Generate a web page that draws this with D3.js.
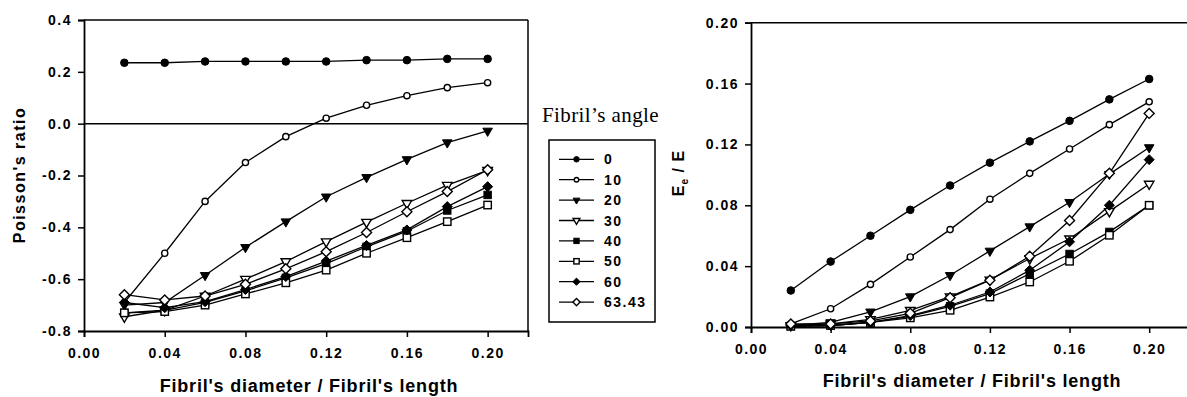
<!DOCTYPE html>
<html><head><meta charset="utf-8">
<script src="https://cdn.jsdelivr.net/npm/d3@7"></script>
<style>
body{margin:0;background:#fff;}
svg{display:block;}
.tk{font-family:"Liberation Sans",Arial,sans-serif;font-weight:bold;font-size:14px;letter-spacing:1.5px;fill:#000;}
.ttl{font-family:"Liberation Sans",Arial,sans-serif;font-weight:bold;fill:#000;}
</style></head>
<body>
<svg id="c" width="1187" height="397"></svg>
<script>
const xVals = [0.02,0.04,0.06,0.08,0.10,0.12,0.14,0.16,0.18,0.20];
const angles = ["0","10","20","30","40","50","60","63.43"];
const markerTypes = ["circleF","circleO","triF","triO","sqF","sqO","diaF","diaO"];

// Poisson's ratio
const p0  = [0.235,0.235,0.24,0.24,0.24,0.24,0.245,0.245,0.25,0.25];
const p10 = [-0.69,-0.50,-0.30,-0.15,-0.05,0.021,0.071,0.108,0.139,0.158];
const p20 = [-0.70,-0.69,-0.585,-0.477,-0.378,-0.282,-0.207,-0.138,-0.073,-0.028];
const p30 = [-0.745,-0.72,-0.665,-0.60,-0.532,-0.455,-0.38,-0.307,-0.237,-0.18];
const p40 = [-0.73,-0.72,-0.69,-0.645,-0.595,-0.54,-0.475,-0.415,-0.335,-0.275];
const p50 = [-0.73,-0.725,-0.70,-0.657,-0.614,-0.565,-0.50,-0.44,-0.378,-0.314];
const p60 = [-0.69,-0.71,-0.687,-0.64,-0.59,-0.53,-0.47,-0.41,-0.32,-0.243];
const p63 = [-0.66,-0.68,-0.665,-0.62,-0.56,-0.494,-0.42,-0.34,-0.262,-0.178];

// Ee / E
const e0  = [0.024,0.043,0.060,0.077,0.093,0.108,0.122,0.1355,0.1496,0.163];
const e10 = [0.002,0.012,0.028,0.046,0.064,0.084,0.101,0.117,0.133,0.148];
const e20 = [0.001,0.003,0.010,0.020,0.034,0.050,0.066,0.082,0.1005,0.118];
const e30 = [0.001,0.002,0.005,0.011,0.020,0.031,0.045,0.058,0.076,0.094];
const e40 = [0.0005,0.001,0.003,0.007,0.0136,0.022,0.035,0.048,0.0625,0.080];
const e50 = [0.0005,0.001,0.003,0.006,0.011,0.0197,0.0296,0.0432,0.0603,0.080];
const e60 = [0.001,0.001,0.003,0.0075,0.0143,0.023,0.0373,0.056,0.080,0.110];
const e63 = [0.002,0.002,0.004,0.009,0.0193,0.0307,0.0465,0.070,0.101,0.1404];

const xTicks = [0.00,0.04,0.08,0.12,0.16,0.20];
const yTicksL = [-0.8,-0.6,-0.4,-0.2,0.0,0.2,0.4];
const yTicksR = [0.00,0.04,0.08,0.12,0.16,0.20];

const poisson = [p0,p10,p20,p30,p40,p50,p60,p63];
const modulus = [e0,e10,e20,e30,e40,e50,e60,e63];

const svg = d3.select("#c");

function drawMarker(g, type, x, y, k){
  const filled = type.endsWith("F");
  const fill = filled ? "#000" : "#fff";
  let el;
  if(type.startsWith("circle")){
    el = g.append("circle").attr("cx",x).attr("cy",y).attr("r",(filled?3.8:3.1)*k);
  } else if(type.startsWith("tri")){
    const s = 9.5*k, h = s*0.866;
    el = g.append("path").attr("d",`M${x-s/2},${y-h/3}L${x+s/2},${y-h/3}L${x},${y+2*h/3}Z`);
  } else if(type.startsWith("sq")){
    const s = 7.4*k;
    el = g.append("rect").attr("x",x-s/2).attr("y",y-s/2).attr("width",s).attr("height",s);
  } else {
    const r = 5.0*k;
    el = g.append("path").attr("d",`M${x},${y-r}L${x+r},${y}L${x},${y+r}L${x-r},${y}Z`);
  }
  el.attr("fill",fill).attr("stroke","#000").attr("stroke-width",filled?1:1.4);
}

function panel(opt){
  const x = d3.scaleLinear().domain([0,0.22]).range(opt.xr);
  const y = d3.scaleLinear().domain(opt.yd).range(opt.yr);
  const g = svg.append("g");
  // frame
  g.append("line").attr("x1",opt.xr[0]).attr("x2",opt.xr[1]).attr("y1",opt.yr[1]).attr("y2",opt.yr[1])
    .attr("stroke","#000").attr("stroke-width",1.5);
  if(opt.rightBorder){
    g.append("line").attr("x1",opt.xr[1]).attr("x2",opt.xr[1]).attr("y1",opt.yr[0]).attr("y2",opt.yr[1])
      .attr("stroke","#000").attr("stroke-width",1.5);
  }
  if(opt.zeroLine){
    g.append("line").attr("x1",opt.xr[0]).attr("x2",opt.xr[1]).attr("y1",y(0)).attr("y2",y(0))
      .attr("stroke","#000").attr("stroke-width",1.5);
  }
  // axes
  const xa = g.append("g").attr("transform",`translate(0,${opt.yr[0]})`)
    .call(d3.axisBottom(x).tickValues(xTicks).tickFormat(d3.format(".2f")).tickSize(6).tickPadding(11));
  const ya = g.append("g").attr("transform",`translate(${opt.xr[0]},0)`)
    .call(d3.axisLeft(y).tickValues(opt.yt).tickFormat(d3.format(opt.yf)).tickSize(6).tickPadding(6));
  [xa,ya].forEach(a=>{
    a.select(".domain").attr("stroke","#000").attr("stroke-width",1.8);
    a.selectAll(".tick line").attr("stroke","#000").attr("stroke-width",1.5);
    a.selectAll(".tick text").attr("class","tk").attr("font-family",null).attr("font-size",null);
    a.attr("font-family",null).attr("font-size",null);
  });
  ya.selectAll(".tick text").text(d=>d3.format(opt.yf)(d).replace("−","-"));
  // series
  const line = d3.line().x((d,i)=>x(xVals[i])).y(d=>y(d));
  opt.data.forEach((s,si)=>{
    g.append("path").datum(s).attr("d",line).attr("fill","none").attr("stroke","#000").attr("stroke-width",1.3);
  });
  opt.data.forEach((s,si)=>{
    s.forEach((v,i)=>drawMarker(g,markerTypes[si],x(xVals[i]),y(v),1));
  });
  // titles
  g.append("text").attr("class","ttl").attr("x",opt.xt[0]).attr("y",opt.xt[1]).attr("text-anchor","middle")
    .style("font-size","18px").style("letter-spacing","0.8px").text("Fibril's diameter / Fibril's length");
  return g;
}

const gl = panel({xr:[84,528], yr:[331,20], yd:[-0.8,0.4], yt:yTicksL, yf:".1f",
  data:poisson, rightBorder:true, zeroLine:true, xt:[309,392]});
gl.append("text").attr("class","ttl").attr("transform","translate(25,175) rotate(-90)")
  .attr("text-anchor","middle").style("font-size","16px").style("letter-spacing","1.5px").text("Poisson's ratio");

const gr = panel({xr:[751,1189], yr:[327,22.7], yd:[0,0.20], yt:yTicksR, yf:".2f",
  data:modulus, rightBorder:false, zeroLine:false, xt:[972,387]});
const yl = gr.append("text").attr("class","ttl").attr("transform","translate(684,173) rotate(-90)")
  .attr("text-anchor","middle").style("font-size","16px").style("letter-spacing","1px");
yl.append("tspan").text("E");
yl.append("tspan").attr("dy",4).style("font-size","10px").text("e");
yl.append("tspan").attr("dy",-4).text(" / E");

// legend
const lg = svg.append("g");
lg.append("text").attr("x",542).attr("y",122).style("font-family","'Liberation Serif','Times New Roman',serif")
  .style("font-size","21px").style("letter-spacing","0.4px").text("Fibril’s angle");
lg.append("rect").attr("x",549).attr("y",140).attr("width",106).attr("height",182)
  .attr("fill","#fff").attr("stroke","#000").attr("stroke-width",1.5);
angles.forEach((a,i)=>{
  const yy = 159.3 + i*20.4;
  lg.append("line").attr("x1",559).attr("x2",594).attr("y1",yy).attr("y2",yy).attr("stroke","#000").attr("stroke-width",1.3);
  drawMarker(lg, markerTypes[i], 576.5, yy, 0.72);
  lg.append("text").attr("class","tk").attr("x",604).attr("y",yy).attr("dy","0.36em").text(a);
});
</script>
</body></html>
